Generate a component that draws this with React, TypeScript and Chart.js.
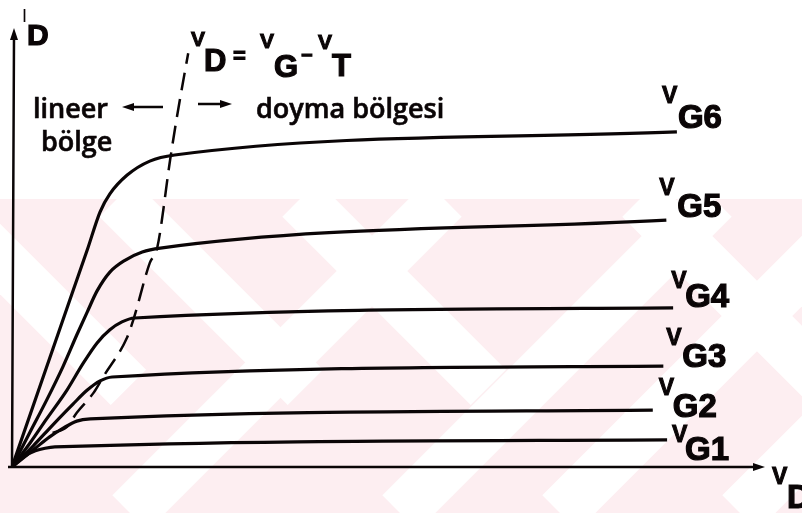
import React, { useEffect, useRef } from "react";
import { Chart, registerables } from "chart.js";

Chart.register(...registerables);

// Drain current I_D (arbitrary units) versus drain voltage V_D (arbitrary units)
const vg1 = [[0, 0], [0.17, 0.25], [0.31, 0.37], [0.44, 0.43], [0.57, 0.46], [8.7, 0.62]];
const vg2 = [[0, 0], [0.31, 0.43], [0.5, 0.69], [0.68, 0.89], [0.86, 1.05], [1.04, 1.1], [8.51, 1.3]];
const vg3 = [[0, 0], [0.28, 0.48], [0.54, 0.96], [0.81, 1.44], [1.0, 1.76], [1.17, 1.97], [1.33, 2.06], [8.65, 2.31]];
const vg4 = [[0, 0], [0.24, 0.55], [0.46, 1.1], [0.73, 1.76], [0.94, 2.36], [1.13, 2.84], [1.3, 3.14], [1.46, 3.32], [1.63, 3.41], [8.78, 3.64]];
const vg5 = [[0, 0], [0.24, 0.8], [0.46, 1.53], [0.68, 2.31], [0.86, 3.02], [1.0, 3.55], [1.13, 4.03], [1.3, 4.46], [1.5, 4.73], [1.73, 4.92], [1.97, 5.01], [8.69, 5.65]];
const vg6 = [[0, 0], [0.4, 1.99], [0.8, 3.98], [1.0, 4.97], [1.17, 5.84], [1.3, 6.25], [1.53, 6.68], [1.83, 7.0], [2.16, 7.14], [8.83, 7.67]];
// saturation boundary V_D = V_G - V_T
const boundary = [[0.54, 0.78], [0.73, 0.92], [0.86, 1.24], [1.08, 1.69], [1.21, 2.06], [1.53, 2.97], [1.61, 3.36], [1.83, 4.67], [1.93, 5.03], [2.1, 7.03], [2.19, 8.01], [2.34, 9.47]];

const curveNames = ["G1", "G2", "G3", "G4", "G5", "G6"];
const curves = [vg1, vg2, vg3, vg4, vg5, vg6];
const xMax = 10;
const yMax = 10;

// label layout (pixel offsets of "V" and subscript relative to curve end)
const labelOffsets = [
  [5, 2, 18, 20],
  [6, -15, 20, 7],
  [3, -21, 19, 1],
  [-2, -20, 12, -1],
  [-7, -25, 11, -3],
  [-15, -29, 1, -4],
];

const BOLD = '"Liberation Sans", Arial, sans-serif';
const SANS = '"Open Sans", "Noto Sans", sans-serif';
const INK = "#0a0506";

const toPts = (arr: number[][]) => arr.map(([x, y]) => ({ x, y }));

function heavy(ctx: any, text: string, x: number, y: number, size: number, w = 1) {
  ctx.font = `bold ${size}px ${BOLD}`;
  ctx.fillText(text, x, y);
  ctx.lineWidth = w;
  ctx.strokeText(text, x, y);
}

const decorPlugin = {
  id: "decor",
  beforeDraw(chart: any) {
    const { ctx, width, height } = chart;
    ctx.save();
    ctx.fillStyle = "#ffffff";
    ctx.fillRect(0, 0, width, height);
    // faint watermark
    ctx.beginPath();
    ctx.rect(0, 199, width, height - 199);
    ctx.clip();
    ctx.fillStyle = "#fdeef1";
    ctx.fillRect(0, 199, width, height - 199);
    ctx.strokeStyle = "#ffffff";
    ctx.lineWidth = 50;
    const span = height - 199;
    [130, 400, 560, 740, 920].forEach((x0) => {
      ctx.beginPath();
      ctx.moveTo(x0, height);
      ctx.lineTo(x0 + span, 199);
      ctx.stroke();
    });
    [-60, 117, 300, 640].forEach((x0) => {
      ctx.beginPath();
      ctx.moveTo(x0, 199);
      ctx.lineTo(x0 + span * 0.6, 199 + span * 0.6);
      ctx.stroke();
    });
    ctx.restore();
  },
  afterDatasetsDraw(chart: any) {
    const { ctx } = chart;
    const xs = chart.scales.x;
    const ys = chart.scales.y;
    const ox = xs.getPixelForValue(0);
    const oy = ys.getPixelForValue(0);
    const xe = xs.getPixelForValue(xMax);
    const ye = ys.getPixelForValue(yMax);
    ctx.save();
    ctx.strokeStyle = INK;
    ctx.fillStyle = INK;
    ctx.lineWidth = 2.5;
    ctx.lineCap = "butt";
    // axes
    ctx.beginPath();
    ctx.moveTo(ox - 4, oy);
    ctx.lineTo(xe - 6, oy);
    ctx.moveTo(ox, oy + 1);
    ctx.lineTo(ox + 2, ye + 6);
    ctx.stroke();
    ctx.beginPath();
    ctx.moveTo(xe, oy);
    ctx.lineTo(xe - 12, oy - 4);
    ctx.lineTo(xe - 12, oy + 4);
    ctx.closePath();
    ctx.fill();
    ctx.beginPath();
    ctx.moveTo(ox + 2, ye - 2);
    ctx.lineTo(ox - 2, ye + 10);
    ctx.lineTo(ox + 6, ye + 10);
    ctx.closePath();
    ctx.fill();

    ctx.textBaseline = "alphabetic";
    ctx.textAlign = "left";
    // curve labels
    curves.forEach((c, i) => {
      const last = c[c.length - 1];
      const px = xs.getPixelForValue(last[0]);
      const py = ys.getPixelForValue(last[1]);
      const o = labelOffsets[i];
      heavy(ctx, "V", px + o[0], py + o[1], 23, 1);
      heavy(ctx, curveNames[i], px + o[2], py + o[3], 33, 1.2);
    });
    // axis labels
    heavy(ctx, "V", xe + 7, oy + 17, 23, 1);
    heavy(ctx, "D", xe + 22, oy + 41, 33, 1.2);
    ctx.font = `18px ${BOLD}`;
    ctx.fillText("I", ox + 10, ye - 8);
    heavy(ctx, "D", ox + 15, ye + 15, 30, 1.2);

    // formula V_D = V_G - V_T
    heavy(ctx, "V", 191, 46, 21, 1);
    heavy(ctx, "D", 204, 71, 31, 1.2);
    heavy(ctx, "=", 233, 63, 22, 1);
    heavy(ctx, "V", 260, 48, 21, 1);
    heavy(ctx, "G", 274, 77, 31, 1.2);
    heavy(ctx, "\u2212", 301, 62, 20, 1);
    heavy(ctx, "V", 318, 49, 21, 1);
    heavy(ctx, "T", 332, 76, 31, 1.2);

    // region labels
    ctx.font = `600 27px ${SANS}`;
    ctx.lineWidth = 0.6;
    [["lineer", 33, 118], ["bölge", 41, 151], ["doyma bölgesi", 256, 118]].forEach(([t, x, y]: any) => {
      ctx.fillText(t, x, y);
      ctx.strokeText(t, x, y);
    });

    // small arrows
    ctx.lineWidth = 2.5;
    ctx.beginPath();
    ctx.moveTo(130, 107);
    ctx.lineTo(163, 107);
    ctx.moveTo(198, 104);
    ctx.lineTo(222, 104);
    ctx.stroke();
    ctx.beginPath();
    ctx.moveTo(122, 107);
    ctx.lineTo(134, 103);
    ctx.lineTo(134, 111);
    ctx.closePath();
    ctx.fill();
    ctx.beginPath();
    ctx.moveTo(232, 104);
    ctx.lineTo(220, 100);
    ctx.lineTo(220, 108);
    ctx.closePath();
    ctx.fill();
    ctx.restore();
  },
};

export default function App() {
  const ref = useRef<HTMLCanvasElement | null>(null);
  useEffect(() => {
    if (!ref.current) return;
    const datasets: any[] = curves.map((c, i) => ({
      label: "V" + curveNames[i],
      data: toPts(c),
      borderColor: INK,
      borderWidth: 3.2,
      pointRadius: 0,
      cubicInterpolationMode: "monotone",
      fill: false,
    }));
    datasets.push({
      label: "VD = VG - VT",
      data: toPts(boundary),
      borderColor: INK,
      borderWidth: 2.5,
      borderDash: [18, 9],
      pointRadius: 0,
      cubicInterpolationMode: "monotone",
      fill: false,
    });
    const chart = new Chart(ref.current, {
      type: "line",
      data: { datasets },
      options: {
        animation: false,
        responsive: false,
        layout: { padding: { left: 12, right: 37, top: 30, bottom: 46 } },
        plugins: { legend: { display: false }, tooltip: { enabled: false } },
        scales: {
          x: { type: "linear", min: 0, max: xMax, display: false },
          y: { type: "linear", min: 0, max: yMax, display: false },
        },
      },
      plugins: [decorPlugin],
    } as any);
    return () => chart.destroy();
  }, []);
  return (
    <div style={{ position: "fixed", left: 0, top: 0, width: 802, height: 513 }}>
      <canvas ref={ref} width={802} height={513} style={{ display: "block" }} />
    </div>
  );
}
